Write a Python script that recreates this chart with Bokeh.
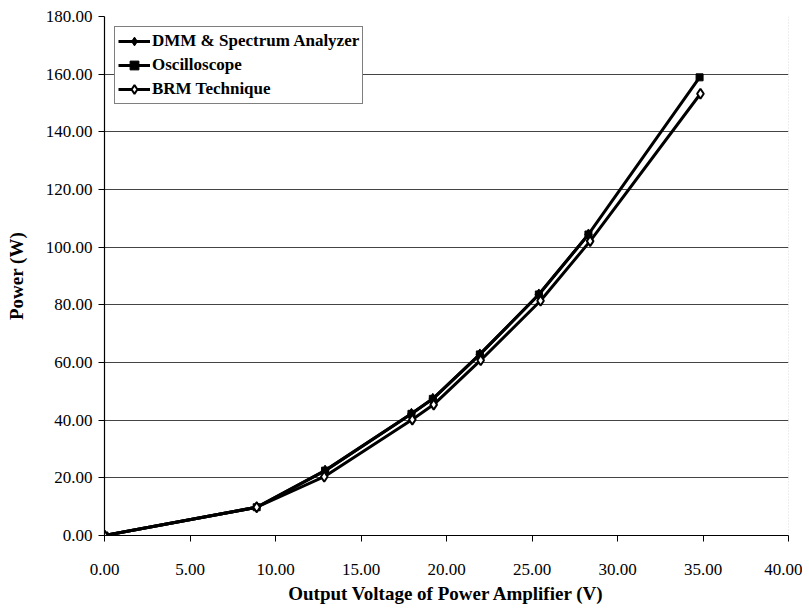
from bokeh.plotting import figure
from bokeh.models import Range1d, FixedTicker, Legend, LegendItem, Span, NumeralTickFormatter
from bokeh.embed import file_html
from bokeh.resources import INLINE

# Data
voltage_dmm = [0.0, 8.9, 12.9, 17.95, 19.2, 21.95, 25.4, 28.3]
power_dmm = [0.0, 9.8, 22.5, 42.2, 47.4, 62.8, 83.6, 104.4]

voltage_osc = [0.0, 8.9, 12.9, 17.95, 19.2, 21.95, 25.4, 28.3, 34.8]
power_osc = [0.0, 9.8, 22.5, 42.2, 47.4, 62.8, 83.6, 104.4, 158.9]

voltage_brm = [0.0, 8.9, 12.85, 18.0, 19.25, 22.0, 25.5, 28.4, 34.85]
power_brm = [0.0, 9.8, 20.4, 40.2, 45.4, 60.8, 81.4, 102.1, 153.2]

x_ticks = [0, 5, 10, 15, 20, 25, 30, 35, 40]
y_ticks = [0, 20, 40, 60, 80, 100, 120, 140, 160, 180]

SERIF = "Liberation Serif"

p = figure(width=802, height=606, output_backend="svg", toolbar_location=None,
           x_range=Range1d(0, 40), y_range=Range1d(0, 180),
           min_border_left=104, min_border_right=14, min_border_top=16, min_border_bottom=60)
p.outline_line_color = None
p.background_fill_color = "white"

# axes
p.xaxis.ticker = FixedTicker(ticks=x_ticks)
p.yaxis.ticker = FixedTicker(ticks=y_ticks)
p.xaxis.formatter = NumeralTickFormatter(format="0.00")
p.yaxis.formatter = NumeralTickFormatter(format="0.00")
for ax in (p.xaxis[0], p.yaxis[0]):
    ax.axis_line_color = "black"
    ax.axis_line_width = 1.2
    ax.major_tick_line_color = "black"
    ax.major_tick_out = 6
    ax.major_tick_in = 0
    ax.minor_tick_line_color = None
    ax.major_label_text_font = SERIF
    ax.major_label_text_font_size = "17px"
    ax.major_label_text_color = "black"
    ax.axis_label_text_font = SERIF
    ax.axis_label_text_font_style = "bold"
    ax.axis_label_text_font_size = "19px"
    ax.axis_label_text_color = "black"

p.xaxis.axis_label = "Output Voltage of Power Amplifier (V)"
p.yaxis.axis_label = "Power (W)"
p.xaxis.major_label_standoff = 22
p.xaxis.axis_label_standoff = 5
p.yaxis.major_label_standoff = 6
p.yaxis.axis_label_standoff = 16

p.xgrid.grid_line_color = None
p.ygrid.grid_line_color = "#444444"
p.ygrid.grid_line_width = 1.1
p.ygrid.ticker = FixedTicker(ticks=[20, 40, 60, 80, 100, 120, 140, 160])

p.add_layout(Span(location=40, dimension="height", line_color="#bbbbbb",
                  line_width=1, line_dash="1 2"))

LW = 3
r_dmm_l = p.line(voltage_dmm, power_dmm, line_color="black", line_width=LW, line_join="round")
r_dmm_m = p.scatter(voltage_dmm, power_dmm, marker="diamond", size=11,
                    fill_color="black", line_color="black")
r_osc_l = p.line(voltage_osc, power_osc, line_color="black", line_width=LW, line_join="round")
r_osc_m = p.scatter(voltage_osc, power_osc, marker="square", size=7,
                    fill_color="black", line_color="black")
r_brm_l = p.line(voltage_brm, power_brm, line_color="black", line_width=LW, line_join="round")
r_brm_m = p.scatter(voltage_brm, power_brm, marker="diamond", size=10,
                    fill_color="white", line_color="black", line_width=2)

legend = Legend(items=[
    LegendItem(label="DMM & Spectrum Analyzer", renderers=[r_dmm_l, r_dmm_m]),
    LegendItem(label="Oscilloscope", renderers=[r_osc_l, r_osc_m]),
    LegendItem(label="BRM Technique", renderers=[r_brm_l, r_brm_m]),
], location="top_left")
legend.label_text_font = SERIF
legend.label_text_font_style = "bold"
legend.label_text_font_size = "17px"
legend.label_text_color = "black"
legend.border_line_color = "black"
legend.border_line_width = 1
legend.background_fill_alpha = 1
legend.margin = 10
legend.padding = 3
legend.spacing = 2
legend.glyph_width = 32
legend.glyph_height = 22
legend.label_height = 22
legend.label_standoff = 2
p.add_layout(legend)

open("out.html", "w").write(file_html(p, INLINE))
